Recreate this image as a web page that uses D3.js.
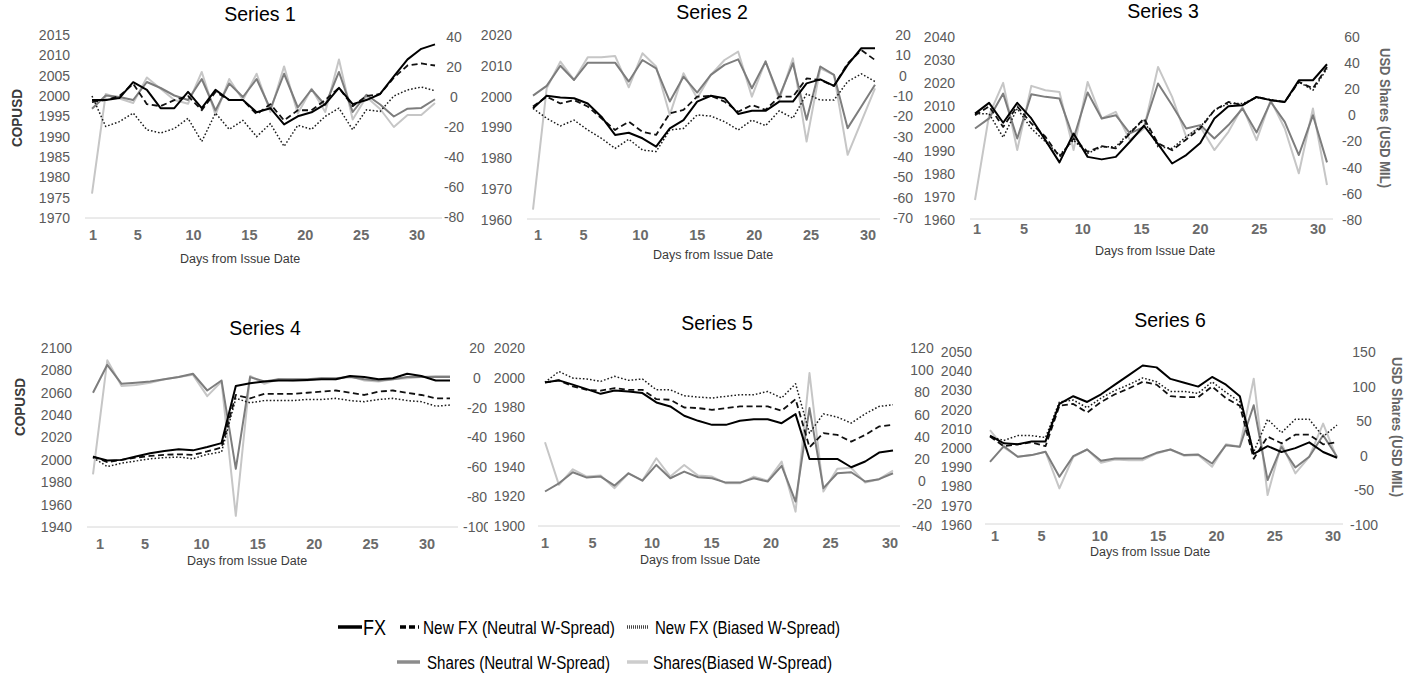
<!DOCTYPE html>
<html>
<head>
<meta charset="utf-8">
<script src="https://cdn.jsdelivr.net/npm/d3@7"></script>
<style>
  body { margin: 0; background: #fff; }
  svg { display: block; font-family: "Liberation Sans", Arial, sans-serif; }
</style>
</head>
<body>
<svg id="chart" width="1419" height="677"></svg>
<script>
// point index along each trading window (26 observations per series)
const pointIndex = [1, 2, 3, 4, 5, 6, 7, 8, 9, 10, 11, 12, 13, 14, 15, 16, 17, 18, 19, 20, 21, 22, 23, 24, 25, 26];
const dayTicks = [1, 5, 10, 15, 20, 25, 30];
const panelTitles = ["Series 1", "Series 2", "Series 3", "Series 4", "Series 5", "Series 6"];

// Series 1
const s1Fx = [1999, 1999, 1999.5, 2003.4, 2001.5, 1997, 1997, 2001, 1997, 2001.5, 1999, 1999, 1996, 1997, 1993, 1995, 1996, 1998, 2002, 1998, 1999, 2000.5, 2004.8, 2009, 2011.6, 2012.7];
const s1NewNeutral = [1998.5, 1999, 2000, 2003, 1998, 1997.5, 1999, 2000, 1996.5, 2001, 1999, 1999, 1995.5, 1998, 1994, 1996.5, 1996.5, 1999, 2002, 1997.5, 2000, 2000.5, 2004.5, 2007.5, 2008, 2007.5];
const s1NewBiased = [2000, 1992.5, 1993.7, 1995.8, 1991.7, 1990.9, 1992, 1994.5, 1988.8, 1995.8, 1991.8, 1994, 1990, 1993.2, 1987.6, 1992.8, 1991.8, 1995, 1997, 1991.7, 1996.6, 1996.2, 2000, 2001.5, 2002.2, 2001.3];
const s1SharesNeutral = [-7.8, 1, 0, -2, 10, 6, 1, -2, 12, -9, 9, 0, 12, -8, 15.5, -7, 5, -5.5, 16.7, -10, 1.5, -5, -13, -7.8, -7.3, -1.5];
const s1SharesBiased = [-64.4, 2, -1, -4, 13, 5.5, -2, -4.5, 16.7, -12, 12, -2, 15.5, -10, 20.4, -11, 5.5, -10, 25, -15, 0, -8, -20, -12, -12, -4];

// Series 2
const s2Fx = [1996.2, 2000.3, 1999.7, 1999.5, 1997.8, 1993.5, 1987.6, 1988.3, 1986.5, 1983.8, 1989.7, 1992.4, 1998.4, 2000.3, 1999.5, 1994.4, 1995.4, 1995.4, 1998.4, 1998.4, 2004.3, 2005.6, 2003.5, 2010.3, 2015.7, 2015.7];
const s2NewNeutral = [1996.8, 2000, 1997.8, 1998.9, 1996.8, 1993, 1989.2, 1991.9, 1988.6, 1987.6, 1994.6, 1995.7, 2000, 2000.3, 1998.4, 1995.1, 1997.3, 1995.7, 2000, 2000, 2005.9, 2005.4, 2003.5, 2010.8, 2015.1, 2011.9];
const s2NewBiased = [1996.2, 1993, 1990.5, 1992.4, 1989.2, 1986.5, 1983.2, 1986.2, 1982.7, 1982.2, 1989.2, 1989.7, 1994.1, 1993.7, 1991.9, 1989.2, 1992.4, 1990.6, 1995.4, 1993, 2000.9, 1998.9, 1998.9, 2004.9, 2007.4, 2004.9];
const s2SharesNeutral = [-9.8, -5, 4.9, -2.1, 6.4, 6.4, 6.4, -2.9, 7.7, 3.6, -12.7, -0.5, -8.3, 0.4, 5.3, 8, -6.2, 6.9, -10.3, 6.1, -21.7, 4.5, 0.4, -25.8, -15.2, -4.5];
const s2SharesBiased = [-65.9, -6.2, 6.9, -2.1, 9, 9, 9.7, -5.7, 11, 4.5, -19.3, 1.2, -11.1, 0.4, 7.7, 11.8, -10.3, 7.2, -11.9, 8.5, -32.4, 3.6, 0.4, -38.9, -22.6, -6.2];

// Series 3
const s3Fx = [2006.5, 2011.2, 2002.5, 2011.2, 2004.4, 1994.9, 1985.2, 1997.8, 1987.6, 1986.5, 1987.6, 1994.2, 2001.2, 1993.2, 1984.7, 1988.4, 1993.7, 2004.4, 2009.7, 2010.2, 2013.8, 2012.4, 2011.6, 2021.1, 2021.1, 2028.1];
const s3NewNeutral = [2005.8, 2009.7, 2000.7, 2009.7, 2002.2, 1996.4, 1987.6, 1995.6, 1989.8, 1992.3, 1991.3, 1997.8, 2004.4, 1993.5, 1990.5, 1995.2, 2000, 2008, 2011.6, 2010.2, 2013.8, 2012.4, 2011.6, 2020.4, 2017.5, 2026.9];
const s3NewBiased = [2006.5, 2006.5, 1996.1, 2008.7, 2000, 1994.2, 1988.4, 1994.9, 1989.1, 1992, 1992, 1998.5, 2003.6, 1992, 1991.3, 1996.4, 2000.7, 2008, 2010.9, 2010.9, 2013.5, 2012.7, 2011.6, 2020.4, 2016.7, 2026.2];
const s3SharesNeutral = [-10, -2.3, 16.7, -17.6, 16.2, 14.2, 12.9, -17.6, 17.5, -2.3, 0.2, -13.8, -8.7, 24.4, 7.8, -10, -7.4, -17.6, -7.4, 5.3, -13, 10.4, -4.9, -30.3, 0.2, -35.9];
const s3SharesBiased = [-64.7, 0.2, 24.9, -26.5, 22.6, 19.3, 18, -26.5, 25.6, -2.3, 2.7, -18.9, -10, 37.1, 14.2, -16.3, -8.7, -26.5, -12.5, 6.6, -18.9, 11.7, -10, -44.3, 5.3, -53.2];

// Series 4
const s4Fx = [2002.8, 1999.5, 2000, 2003, 2006, 2008, 2009.5, 2008.5, 2011.5, 2015, 2066, 2068.5, 2070, 2071, 2071, 2071.5, 2072, 2072, 2075, 2074, 2072, 2073, 2077, 2075, 2071, 2071];
const s4NewNeutral = [2003, 1998, 2000, 2002, 2003.5, 2004.5, 2005, 2004.5, 2007.5, 2011, 2058, 2055, 2059, 2059, 2059, 2060, 2061, 2062, 2060, 2058, 2061, 2062, 2060, 2058, 2055, 2055];
const s4NewBiased = [2002, 1994, 1997, 1999, 2001, 2002, 2002.5, 2001, 2005, 2007, 2055, 2051, 2053, 2053, 2053, 2054, 2054, 2055, 2053, 2052, 2054, 2055, 2053, 2052, 2048, 2049];
const s4SharesNeutral = [-10, 8.75, -4, -3.25, -2.5, -1, 0.5, 2.75, -8.5, -1.75, -61, 0.5, -2.5, -1, -1, -1, -0.25, -0.25, 0.5, -1, -1.75, -1, 0.5, 0.5, 0.5, 0.5];
const s4SharesBiased = [-64.75, 11.75, -5.5, -4.75, -3.25, -1, 0.5, 2, -12.25, -2.5, -92.5, 1.25, -4, -1, -1.75, -1.75, -0.25, -1, 1.25, -1.75, -2.5, -1, -0.25, 0.5, 1.25, 1.25];

// Series 5
const s5Fx = [1996.8, 1998.2, 1995.3, 1992.3, 1989.1, 1991.4, 1990.7, 1989.6, 1983.3, 1980.6, 1974.3, 1970.9, 1968.2, 1968.2, 1970.9, 1972, 1972, 1969.3, 1975.4, 1945.2, 1945.2, 1945.2, 1939.6, 1943.5, 1949.5, 1950.9];
const s5NewNeutral = [1996.8, 1998.2, 1994.1, 1991.8, 1991.2, 1993, 1991.8, 1991.8, 1985.5, 1985.1, 1979.9, 1979.5, 1978.3, 1979.5, 1980.6, 1980.6, 1980.6, 1977.7, 1985.5, 1953.1, 1962.6, 1961.4, 1956.9, 1961.4, 1967.1, 1968.2];
const s5NewBiased = [1996.8, 2004.2, 1999.7, 1999.1, 1997.5, 2000.9, 1998.2, 1999.1, 1991.8, 1991.8, 1987.8, 1986.9, 1986.3, 1987.4, 1988.5, 1988.5, 1990.7, 1986.3, 1995.9, 1962.6, 1975.6, 1973.4, 1969.4, 1975.6, 1980.6, 1981.8];
const s5SharesNeutral = [-9, -1.6, 8.3, 3.5, 4.4, -3.7, 7.4, 0.8, 14.9, 2.9, 8.9, 3.8, 2.9, -1, -1, 2.9, 0, 14.1, -18, 66, -6, 7.4, 8.3, 0, 2.1, 7.4];
const s5SharesBiased = [35.3, -3, 11, 4.4, 5.3, -6, 7.4, 0.8, 20.9, 4.4, 14.9, 5.3, 4.4, -1.6, -1.6, 4.4, 0.8, 17.9, -27.1, 97.5, -9, 11.4, 12.3, -1, 2.1, 9.9];

// Series 6
const s6Fx = [2006.5, 2002.5, 2002, 2003.5, 2003.5, 2023, 2027, 2024, 2028, 2033, 2038, 2043, 2042, 2036, 2034, 2032, 2037, 2033, 2027, 1997, 2001, 1998, 2000, 2003, 1998, 1995];
const s6NewNeutral = [2006, 2001, 2002, 2003, 2001, 2022, 2023, 2018.5, 2024, 2028, 2031, 2034.5, 2033, 2027, 2026.5, 2026.5, 2032, 2026, 2022, 1994.5, 2006, 2002.5, 2007, 2007, 2002, 2003];
const s6NewBiased = [2006, 2004, 2006.5, 2006.5, 2005.5, 2024, 2025, 2021, 2026, 2030, 2033, 2036.5, 2034.5, 2029.5, 2029.5, 2028.5, 2034.5, 2029, 2024, 1998, 2015, 2008, 2015, 2015, 2006, 2012];
const s6SharesNeutral = [-8.7, 13.9, -1.4, 1, 5.8, -30.3, -0.5, 9.1, -7.2, -3.8, -3.8, -3.8, 4.3, 9.1, 1, 1.9, -11.1, 15.4, 13, 73.1, -35.1, 13, -16.8, -1.4, 29.8, -1.4];
const s6SharesBiased = [37, 12, -1.4, 1, 5.8, -47.1, -1.4, 9.1, -10.1, -5.3, -6.3, -6.3, 3.4, 9.1, 0, 1, -15.9, 16.8, 13, 111.5, -56.7, 17.8, -25.5, -1.4, 46.6, -3.8];

// axis tick values
const s1LeftTicks = [1970, 1975, 1980, 1985, 1990, 1995, 2000, 2005, 2010, 2015];
const s1RightTicks = [-80, -60, -40, -20, 0, 20, 40];
const s2LeftTicks = [1960, 1970, 1980, 1990, 2000, 2010, 2020];
const s2RightTicks = [-70, -60, -50, -40, -30, -20, -10, 0, 10, 20];
const s3LeftTicks = [1960, 1970, 1980, 1990, 2000, 2010, 2020, 2030, 2040];
const s3RightTicks = [-80, -60, -40, -20, 0, 20, 40, 60];
const s4LeftTicks = [1940, 1960, 1980, 2000, 2020, 2040, 2060, 2080, 2100];
const s4RightTicks = [-100, -80, -60, -40, -20, 0, 20];
const s5LeftTicks = [1900, 1920, 1940, 1960, 1980, 2000, 2020];
const s5RightTicks = [-40, -20, 0, 20, 40, 60, 80, 100, 120];
const s6LeftTicks = [1960, 1970, 1980, 1990, 2000, 2010, 2020, 2030, 2040, 2050];
const s6RightTicks = [-100, -50, 0, 50, 100, 150];

const legendLabels = ["FX", "New FX (Neutral W-Spread)", "New FX (Biased W-Spread)", "Shares (Neutral W-Spread)", "Shares(Biased W-Spread)"];

// drawing order: lightest first so black sits on top
const lineStyles = [
    { key: "sharesBiased", axis: "right", color: "#c6c6c6", width: 2, dash: null },
    { key: "sharesNeutral", axis: "right", color: "#7d7d7d", width: 2, dash: null },
    { key: "newBiased", axis: "left", color: "#1c1c1c", width: 1.5, dash: "1.6,2" },
    { key: "newNeutral", axis: "left", color: "#111", width: 1.8, dash: "6,3.5" },
    { key: "fx", axis: "left", color: "#000", width: 2, dash: null }
];

const panels = [
    { fx: s1Fx, newNeutral: s1NewNeutral, newBiased: s1NewBiased, sharesNeutral: s1SharesNeutral, sharesBiased: s1SharesBiased,
      leftTicks: s1LeftTicks, rightTicks: s1RightTicks,
      x: [92, 435], yL: [218, 35], yR: [217, 37], grid: [85, 442, 218], leftX: 70, rightX: 454, days: [93, 417],
      tickY: 240, axTitle: [240, 263], titlePos: [260, 21], copusd: [17, 118] },
    { fx: s2Fx, newNeutral: s2NewNeutral, newBiased: s2NewBiased, sharesNeutral: s2SharesNeutral, sharesBiased: s2SharesBiased,
      leftTicks: s2LeftTicks, rightTicks: s2RightTicks,
      x: [533, 875], yL: [220, 35], yR: [218, 35], grid: [527, 880, 219], leftX: 512, rightX: 903, days: [538, 868],
      tickY: 240, axTitle: [713, 259], titlePos: [712, 19] },
    { fx: s3Fx, newNeutral: s3NewNeutral, newBiased: s3NewBiased, sharesNeutral: s3SharesNeutral, sharesBiased: s3SharesBiased,
      leftTicks: s3LeftTicks, rightTicks: s3RightTicks,
      x: [975, 1327], yL: [220, 37], yR: [220, 37], grid: [970, 1333, 219], leftX: 955, rightX: 1352, days: [977, 1318],
      tickY: 234, axTitle: [1155, 255], titlePos: [1163, 18], usdTitle: [1385, 118] },
    { fx: s4Fx, newNeutral: s4NewNeutral, newBiased: s4NewBiased, sharesNeutral: s4SharesNeutral, sharesBiased: s4SharesBiased,
      leftTicks: s4LeftTicks, rightTicks: s4RightTicks,
      x: [93, 450], yL: [527, 348], yR: [527, 348], grid: [87, 458, 527], leftX: 72, rightX: 477, days: [100, 427],
      tickY: 549, axTitle: [247, 565], titlePos: [265, 335], copusd: [20, 407], clipRight: 488 },
    { fx: s5Fx, newNeutral: s5NewNeutral, newBiased: s5NewBiased, sharesNeutral: s5SharesNeutral, sharesBiased: s5SharesBiased,
      leftTicks: s5LeftTicks, rightTicks: s5RightTicks,
      x: [545, 893], yL: [526, 348], yR: [526, 348], grid: [538, 900, 526], leftX: 525, rightX: 922, days: [545, 890],
      tickY: 548, axTitle: [700, 564], titlePos: [717, 330] },
    { fx: s6Fx, newNeutral: s6NewNeutral, newBiased: s6NewBiased, sharesNeutral: s6SharesNeutral, sharesBiased: s6SharesBiased,
      leftTicks: s6LeftTicks, rightTicks: s6RightTicks,
      x: [990, 1337], yL: [525, 352], yR: [525, 352], grid: [985, 1343, 524], leftX: 972, rightX: 1364, days: [995, 1333],
      tickY: 541, axTitle: [1150, 556], titlePos: [1170, 327], usdTitle: [1397, 427] }
];

const svg = d3.select("#chart");
const defs = svg.append("defs");

panels.forEach((p, i) => {
    const g = svg.append("g").attr("class", "panel-" + (i + 1));
    if (p.clipRight) {
        // the neighbouring panel covers the tail of this panel's right axis labels
        defs.append("clipPath").attr("id", "clip" + i)
            .append("rect").attr("x", 0).attr("y", 290).attr("width", p.clipRight).attr("height", 300);
        g.attr("clip-path", `url(#clip${i})`);
    }

    const x = d3.scaleLinear().domain([1, pointIndex.length]).range(p.x);
    const dayX = d3.scaleLinear().domain([1, 30]).range(p.days);
    const yL = d3.scaleLinear().domain(d3.extent(p.leftTicks)).range(p.yL);
    const yR = d3.scaleLinear().domain(d3.extent(p.rightTicks)).range(p.yR);

    // baseline
    g.append("line")
        .attr("x1", p.grid[0]).attr("x2", p.grid[1])
        .attr("y1", p.grid[2]).attr("y2", p.grid[2])
        .attr("stroke", "#d6d6d6").attr("stroke-width", 1);

    // left axis labels
    g.append("g").selectAll("text").data(p.leftTicks).join("text")
        .attr("x", p.leftX).attr("y", d => yL(d))
        .attr("dy", "0.35em").attr("text-anchor", "end")
        .attr("font-size", 14).attr("fill", "#5a5a5a")
        .text(d => d);

    // right axis labels
    g.append("g").selectAll("text").data(p.rightTicks).join("text")
        .attr("x", p.rightX).attr("y", d => yR(d))
        .attr("dy", "0.35em").attr("text-anchor", "middle")
        .attr("font-size", 14).attr("fill", "#5a5a5a")
        .text(d => d);

    // day labels
    g.append("g").selectAll("text").data(dayTicks).join("text")
        .attr("x", d => dayX(d)).attr("y", p.tickY)
        .attr("text-anchor", "middle")
        .attr("font-size", 14.5).attr("font-weight", "bold").attr("fill", "#6a6a6a")
        .text(d => d);

    g.append("text")
        .attr("x", p.axTitle[0]).attr("y", p.axTitle[1])
        .attr("text-anchor", "middle").attr("font-size", 12.5).attr("fill", "#3a3a3a")
        .text("Days from Issue Date");

    g.append("text")
        .attr("x", p.titlePos[0]).attr("y", p.titlePos[1])
        .attr("text-anchor", "middle").attr("font-size", 19.5).attr("fill", "#000")
        .text(panelTitles[i]);

    if (p.copusd) {
        g.append("text")
            .attr("transform", `translate(${p.copusd[0]},${p.copusd[1]}) rotate(-90)`)
            .attr("text-anchor", "middle").attr("dy", "0.35em")
            .attr("font-size", 15).attr("font-weight", "bold").attr("fill", "#3a3a3a")
            .attr("textLength", 58).attr("lengthAdjust", "spacingAndGlyphs")
            .text("COPUSD");
    }
    if (p.usdTitle) {
        g.append("text")
            .attr("transform", `translate(${p.usdTitle[0]},${p.usdTitle[1]}) rotate(90)`)
            .attr("text-anchor", "middle").attr("dy", "0.35em")
            .attr("font-size", 14).attr("font-weight", "bold").attr("fill", "#666")
            .attr("textLength", 140).attr("lengthAdjust", "spacingAndGlyphs")
            .text("USD Shares (USD MIL)");
    }

    lineStyles.forEach(s => {
        const y = s.axis === "left" ? yL : yR;
        const line = d3.line().x((d, k) => x(pointIndex[k])).y(d => y(d));
        g.append("path")
            .datum(p[s.key])
            .attr("d", line)
            .attr("fill", "none")
            .attr("stroke", s.color)
            .attr("stroke-width", s.width)
            .attr("stroke-dasharray", s.dash)
            .attr("stroke-linejoin", "round");
    });
});

// legend
const legend = svg.append("g").attr("class", "legend");
const legendItems = [
    { label: legendLabels[0], line: [338, 362, 627], color: "#000", width: 3.5, dash: null, tx: 363, ty: 635, size: 22, len: 23 },
    { label: legendLabels[1], line: [400, 419, 627], color: "#000", width: 3.5, dash: "6,3", tx: 423, ty: 634, size: 17.5, len: 192 },
    { label: legendLabels[2], line: [627, 648, 627], color: "#444", width: 3.5, dash: "1,1", tx: 655, ty: 634, size: 17.5, len: 185 },
    { label: legendLabels[3], line: [397, 420, 662], color: "#8c8c8c", width: 3.5, dash: null, tx: 427, ty: 669, size: 17.5, len: 183 },
    { label: legendLabels[4], line: [627, 648, 662], color: "#cdcdcd", width: 3.5, dash: null, tx: 653, ty: 669, size: 17.5, len: 179 }
];
legendItems.forEach(it => {
    legend.append("line")
        .attr("x1", it.line[0]).attr("x2", it.line[1])
        .attr("y1", it.line[2]).attr("y2", it.line[2])
        .attr("stroke", it.color).attr("stroke-width", it.width)
        .attr("stroke-dasharray", it.dash);
    legend.append("text")
        .attr("x", it.tx).attr("y", it.ty)
        .attr("font-size", it.size).attr("fill", "#000")
        .attr("textLength", it.len).attr("lengthAdjust", "spacingAndGlyphs")
        .text(it.label);
});
</script>
</body>
</html>
